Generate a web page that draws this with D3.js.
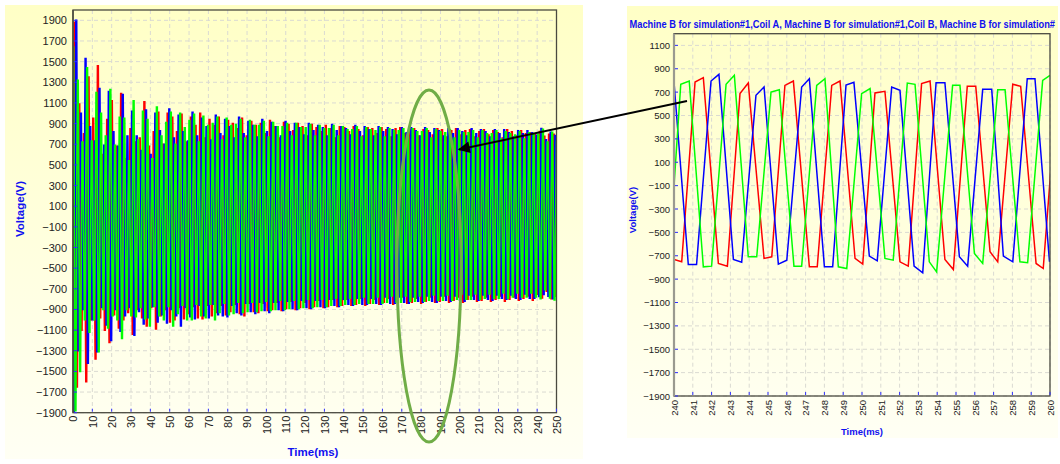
<!DOCTYPE html>
<html><head><meta charset="utf-8">
<script src="https://cdn.jsdelivr.net/npm/d3@7"></script>
<style>
body{margin:0;background:#fff;}
svg{display:block;}
text{font-family:Arial,"Liberation Sans",sans-serif;}
</style>
</head><body>
<svg id="c" width="1060" height="464"></svg>
<script>
// ---------------- DATA ----------------
const seriesNames = ["Coil A", "Coil B", "Coil C"];
const seriesColors = ["#FF0000", "#0000FF", "#00FF00"];

// Left chart (0-250 ms): one top and one bottom value per electrical cycle
const leftPeriodMs = 2.405;           // cycle length
const leftPhaseMs = [0.62, 1.47, 2.27]; // first top of each coil
const leftPosA = [1500,1880,1090,800,1350,950,1460,600,940,1120,680,1190,560,850,720,760,1110,680,820,1010,700,1000,960,820,990,720,960,880,1000,760,940,880,960,780,930,900,850,950,780,920,880,900,800,930,870,760,910,890,830,900,870,780,890,860,820,880,850,760,870,860,820,870,840,780,860,850,800,860,840,770,850,860,800,840,850,780,840,830,790,850,840,770,830,850,790,830,840,770,820,840,790,830,810,760,840,820,780,830,800,810,800,824,778,795,795];
const leftNegA = [-1500,-1650,-1100,-1600,-1000,-1380,-980,-1100,-1220,-950,-1080,-1000,-930,-1140,-900,-980,-1060,-880,-1090,-960,-900,-1020,-1000,-880,-990,-940,-870,-980,-990,-860,-960,-930,-860,-950,-920,-850,-940,-960,-840,-920,-930,-840,-910,-900,-830,-910,-890,-820,-900,-880,-830,-890,-870,-810,-880,-870,-800,-870,-860,-800,-860,-850,-790,-860,-840,-800,-850,-830,-790,-850,-830,-780,-840,-830,-790,-840,-820,-780,-830,-820,-770,-830,-810,-780,-830,-800,-770,-820,-810,-780,-820,-800,-770,-820,-800,-780,-810,-790,-770,-810,-752,-789,-723,-795,-772];
const leftPosB = [1400,1900,1000,1530,870,730,1240,690,1210,820,680,1180,780,1020,780,640,1030,600,1000,830,700,1040,760,980,820,730,1010,780,950,870,740,980,800,940,870,760,960,800,920,880,770,940,820,910,870,780,920,820,900,860,790,900,830,880,860,780,890,830,870,850,790,880,820,870,840,780,870,820,860,840,790,860,810,860,830,780,860,810,850,830,780,850,800,850,820,780,850,800,840,820,770,840,800,840,810,770,830,800,830,810,786,852,744,815,784];
const leftNegB = [-1900,-1300,-900,-1420,-1000,-1310,-880,-1050,-1200,-900,-1110,-960,-880,-1150,-920,-1040,-980,-870,-1020,-950,-1030,-900,-960,-1060,-880,-970,-990,-860,-960,-980,-850,-950,-960,-970,-860,-930,-950,-840,-920,-940,-830,-910,-930,-830,-900,-910,-820,-890,-900,-810,-880,-890,-810,-870,-880,-800,-860,-870,-800,-850,-860,-790,-850,-850,-790,-840,-850,-780,-840,-840,-780,-830,-840,-780,-820,-830,-770,-820,-830,-770,-810,-820,-770,-810,-820,-760,-800,-810,-760,-800,-810,-760,-790,-800,-760,-790,-800,-750,-790,-790,-775,-755,-772,-795,-743];
const leftPosC = [1640,1320,720,1440,730,1200,1000,780,1230,690,960,950,540,1120,740,1020,940,560,1060,780,910,1010,700,1000,860,930,990,720,970,880,900,960,740,950,880,890,940,760,930,880,880,920,770,910,870,870,900,780,900,860,860,890,780,880,850,850,880,780,870,840,840,870,770,860,840,830,860,770,850,830,830,850,770,850,820,820,850,760,840,820,810,840,760,830,810,810,830,760,830,800,800,830,750,820,800,790,820,750,810,800,795,844,721,815,730];
const leftNegC = [-1880,-1500,-1000,-1120,-1000,-1310,-900,-1080,-960,-1000,-1180,-900,-960,-970,-880,-990,-1060,-870,-960,-1000,-870,-1060,-940,-860,-1000,-1000,-850,-960,-980,-850,-1000,-930,-840,-950,-940,-830,-930,-920,-830,-920,-910,-820,-910,-900,-810,-900,-890,-810,-890,-880,-800,-880,-870,-800,-870,-860,-790,-860,-850,-790,-850,-840,-780,-840,-840,-780,-840,-830,-770,-830,-830,-770,-820,-820,-770,-820,-810,-760,-810,-810,-760,-810,-800,-750,-800,-800,-750,-800,-790,-750,-790,-790,-740,-790,-780,-740,-780,-780,-740,-780,-795,-709,-789,-809,-738];

// Right chart (240-260 ms): waveform corners [time ms, voltage V]
const rightA = [[239.23,800],[240.0,-732],[240.41,-752],[241.12,786],[241.56,824],[242.36,-766],[242.84,-789],[243.51,687],[243.95,778],[244.79,-723],[245.2,-709],[245.9,758],[246.35,795],[247.2,-795],[247.62,-795],[248.39,758],[248.83,795],[249.63,-723],[250.04,-772],[250.69,693],[251.22,707],[252.02,-752],[252.46,-789],[253.17,773],[253.62,795],[254.41,-732],[254.86,-818],[255.6,750],[256.05,750],[256.81,-666],[257.22,-752],[258.02,767],[258.44,750],[259.26,-766],[259.64,-809],[260.4,780]];
const rightB = [[239.6,760],[240.0,786],[240.76,-775],[241.2,-775],[241.97,795],[242.39,852],[243.16,-732],[243.6,-755],[244.36,673],[244.79,744],[245.55,-772],[246.0,-738],[246.79,744],[247.2,815],[248.0,-795],[248.44,-795],[249.15,760],[249.57,784],[250.39,-703],[250.81,-743],[251.58,744],[252.02,715],[252.77,-789],[253.23,-846],[253.94,781],[254.41,781],[255.18,-709],[255.62,-789],[256.42,724],[256.9,724],[257.52,-703],[258.02,-752],[258.79,815],[259.2,815],[259.97,-746],[260.4,-760]];
const rightC = [[239.72,-780],[240.36,767],[240.81,795],[241.56,-795],[242.0,-789],[242.77,767],[243.21,844],[243.95,-709],[244.4,-709],[245.16,701],[245.6,721],[246.38,-789],[246.79,-789],[247.59,758],[248.03,815],[248.74,-795],[249.19,-809],[249.98,687],[250.43,730],[251.22,-723],[251.66,-738],[252.41,778],[252.82,767],[253.58,-752],[253.97,-838],[254.82,758],[255.21,758],[255.98,-681],[256.42,-766],[257.22,721],[257.61,721],[258.4,-752],[258.81,-760],[259.61,801],[260.0,844]];

const leftXTicks = d3.range(0, 251, 10);
const leftYTicks = d3.range(-1900, 1901, 200);
const rightXTicks = d3.range(240, 261, 1);
const rightYTicks = d3.range(-1900, 1101, 200);
// title as far as it is visible in the reference
const rightTitle = "Machine B for simulation#1,Coil A, Machine B for simulation#1,Coil B, Machine B for simulation#";
const xTitle = "Time(ms)";
const yTitle = "Voltage(V)";

// ---------------- DRAW ----------------
const svg = d3.select("#c");
const defs = svg.append("defs");
const grad = defs.append("linearGradient").attr("id","bg").attr("x1",0).attr("y1",0).attr("x2",0).attr("y2",1);
grad.append("stop").attr("offset","0").attr("stop-color","#FFFFC6");
grad.append("stop").attr("offset","1").attr("stop-color","#FFFFF4");
const mk = defs.append("marker").attr("id","ah").attr("viewBox","0 0 10 10").attr("refX",9).attr("refY",5)
  .attr("markerWidth",8).attr("markerHeight",6).attr("markerUnits","strokeWidth").attr("orient","auto");
mk.append("path").attr("d","M0,0 L10,5 L0,10 z").attr("fill","#000");

// panels
svg.append("rect").attr("x",5).attr("y",5).attr("width",578).attr("height",454).attr("fill","url(#bg)");
svg.append("rect").attr("x",627).attr("y",6).attr("width",431).attr("height",432).attr("fill","url(#bg)");

function drawChart(cfg){
  const {x0,x1,y0,y1,xDom,yDom,xTicks,yTicks,id} = cfg;
  const x = d3.scaleLinear().domain(xDom).range([x0,x1]);
  const y = d3.scaleLinear().domain(yDom).range([y1,y0]);
  const g = svg.append("g");
  defs.append("clipPath").attr("id",id).append("rect").attr("x",x0).attr("y",y0).attr("width",x1-x0).attr("height",y1-y0);
  g.append("g").selectAll("line").data(xTicks.slice(1)).join("line")
    .attr("x1",d=>x(d)).attr("x2",d=>x(d)).attr("y1",y0).attr("y2",y1)
    .attr("stroke","#DADAD2").attr("stroke-width",1).attr("stroke-dasharray","4,3");
  g.append("g").selectAll("line").data(yTicks).join("line")
    .attr("x1",x0).attr("x2",x1).attr("y1",d=>y(d)).attr("y2",d=>y(d))
    .attr("stroke","#DADAD2").attr("stroke-width",1).attr("stroke-dasharray","4,3");
  return {x,y,g};
}

const L = drawChart({x0:73,x1:556.5,y0:10,y1:412.7,xDom:[0,250],yDom:[-1900,2000],xTicks:leftXTicks,yTicks:leftYTicks,id:"clipL"});
const R = drawChart({x0:674,x1:1050,y0:33.7,y1:396,xDom:[240,260],yDom:[-1900,1200],xTicks:rightXTicks,yTicks:rightYTicks,id:"clipR"});

// left series: each cycle = top plateau, falling ramp, bottom plateau, rising ramp
function cyclePoints(pos, neg, phase){
  const pts = [];
  const plateau = 0.43, ramp = (leftPeriodMs - 2*plateau)/2;
  for(let k=0;k<pos.length;k++){
    const t0 = phase + (k-1)*leftPeriodMs;
    pts.push([t0, pos[k]]);
    pts.push([t0+plateau, pos[k]]);
    pts.push([t0+plateau+ramp, neg[k]]);
    pts.push([t0+2*plateau+ramp, neg[k]]);
  }
  return pts;
}
const leftSeries = [
  cyclePoints(leftPosA, leftNegA, leftPhaseMs[0]),
  cyclePoints(leftPosB, leftNegB, leftPhaseMs[1]),
  cyclePoints(leftPosC, leftNegC, leftPhaseMs[2])
];
const lineL = d3.line().x(d=>L.x(d[0])).y(d=>L.y(d[1]));
svg.append("g").attr("clip-path","url(#clipL)").selectAll("path").data(leftSeries).join("path")
  .attr("d",lineL).attr("fill","none").attr("stroke",(d,i)=>seriesColors[i]).attr("stroke-width",1.6)
  .attr("stroke-linejoin","miter");

const rightSeries = [rightA, rightB, rightC];
const lineR = d3.line().x(d=>R.x(d[0])).y(d=>R.y(d[1]));
svg.append("g").attr("clip-path","url(#clipR)").selectAll("path").data(rightSeries).join("path")
  .attr("d",lineR).attr("fill","none").attr("stroke",(d,i)=>seriesColors[i]).attr("stroke-width",1.5);

// axes
function axes(C, cfg){
  const {x,y} = C;
  const {x0,x1,y0,y1,xTicks,yTicks,fs,pad,xpad,leftAxisColor,leftAxisWidth} = cfg;
  svg.append("rect").attr("x",x0).attr("y",y0).attr("width",x1-x0).attr("height",y1-y0)
    .attr("fill","none").attr("stroke","#4a4a40").attr("stroke-width",1.3);
  svg.append("line").attr("x1",x0).attr("x2",x0).attr("y1",y0).attr("y2",y1)
    .attr("stroke",leftAxisColor).attr("stroke-width",leftAxisWidth);
  svg.append("g").selectAll("line").data(yTicks).join("line")
    .attr("x1",x0+1).attr("x2",x0+4).attr("y1",d=>y(d)).attr("y2",d=>y(d)).attr("stroke","#3030FF").attr("stroke-width",1);
  svg.append("g").selectAll("line").data(xTicks.slice(1)).join("line")
    .attr("x1",d=>x(d)).attr("x2",d=>x(d)).attr("y1",y1-4).attr("y2",y1-1).attr("stroke","#3030FF").attr("stroke-width",1);
  const ya = svg.append("g").attr("transform",`translate(${x0},0)`)
    .call(d3.axisLeft(y).tickValues(yTicks).tickSize(0).tickPadding(pad).tickFormat(d3.format("d")));
  ya.select(".domain").remove();
  ya.selectAll("text").attr("font-size",fs).attr("fill","#222").attr("font-family","Arial,'Liberation Sans',sans-serif");
  const xa = svg.append("g").attr("transform",`translate(0,${y1})`)
    .call(d3.axisBottom(x).tickValues(xTicks).tickSize(0).tickFormat(d3.format("d")));
  xa.select(".domain").remove();
  xa.selectAll("text").attr("font-size",fs).attr("fill","#222").attr("font-family","Arial,'Liberation Sans',sans-serif")
    .attr("transform","rotate(-90)").attr("text-anchor","end").attr("x",-xpad).attr("y",0).attr("dy","0.35em");
}
axes(L,{x0:73,x1:556.5,y0:10,y1:412.7,xTicks:leftXTicks,yTicks:leftYTicks,fs:11,pad:6,xpad:3,leftAxisColor:"#4a4a40",leftAxisWidth:1.5});
axes(R,{x0:674,x1:1050,y0:33.7,y1:396,xTicks:rightXTicks,yTicks:rightYTicks,fs:9.5,pad:4,xpad:4,leftAxisColor:"#9a9a90",leftAxisWidth:2.2});

// axis titles
svg.append("text").attr("x",313).attr("y",456).attr("text-anchor","middle").attr("font-size",11.5)
  .attr("font-weight","bold").attr("fill","#1010F0").text(xTitle);
svg.append("text").attr("transform","translate(24,209) rotate(-90)").attr("text-anchor","middle").attr("font-size",11.5)
  .attr("font-weight","bold").attr("fill","#1010F0").text(yTitle);
svg.append("text").attr("x",862).attr("y",435).attr("text-anchor","middle").attr("font-size",9.5)
  .attr("font-weight","bold").attr("fill","#1010F0").text(xTitle);
svg.append("text").attr("transform","translate(636,210) rotate(-90)").attr("text-anchor","middle").attr("font-size",9.5)
  .attr("font-weight","bold").attr("fill","#1010F0").text(yTitle);

// right chart title, condensed to the width it has in the picture
const tmp = svg.append("text").attr("font-size",10).attr("font-weight","bold").text(rightTitle);
const wVis = tmp.node().getComputedTextLength();
tmp.remove();
const sx = 426 / wVis;
svg.append("text").attr("transform",`translate(629.5,27.5) scale(${sx},1)`).attr("font-size",10)
  .attr("font-weight","bold").attr("fill","#1010F0").text(rightTitle);

// annotation: ellipse and arrow
svg.append("ellipse").attr("cx",429).attr("cy",266).attr("rx",32).attr("ry",176)
  .attr("fill","none").attr("stroke","#70AD47").attr("stroke-width",3);
svg.append("line").attr("x1",687).attr("y1",101).attr("x2",459).attr("y2",149.5)
  .attr("stroke","#000").attr("stroke-width",2).attr("marker-end","url(#ah)");
</script>
</body></html>
